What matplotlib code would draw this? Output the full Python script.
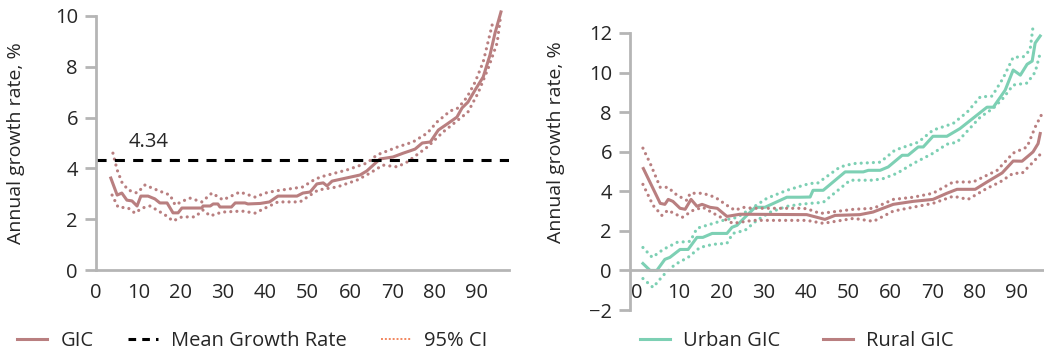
import matplotlib
matplotlib.use("Agg")
import matplotlib.pyplot as plt
from matplotlib.lines import Line2D

plt.rcParams['font.family'] = ['Open Sans', 'DejaVu Sans']

ROSE = '#b97f80'
TEAL = '#7dd0b4'
ORANGE = '#f2865e'
AXGRAY = '#b5b5b5'
TXT = '#262626'
FS = 14.5

# ---- left panel: national GIC ----
gic_x = [3.5, 5, 6.1, 7.3, 8.5, 9.7, 10.6, 12.3, 13.9, 15.1, 16.8, 18.2, 19.4, 20.3, 25, 25.3,
         27, 27.7, 28.8, 29.3, 32, 32.9, 35.2, 35.9, 38.8, 41, 43, 47.5, 48.9, 50.6, 52.2, 53.7,
         54.6, 55.8, 62.4, 64, 67.1, 70.2, 72.6, 74.2, 75.4, 77.1, 79, 80.9, 83, 85.3, 86.5,
         87.9, 89.6, 91.5, 93.1, 94.3, 95.7]
gic_y = [3.62, 2.95, 3.03, 2.75, 2.72, 2.52, 2.91, 2.91, 2.8, 2.64, 2.64, 2.25, 2.25, 2.44, 2.44, 2.52,
         2.52, 2.6, 2.6, 2.48, 2.48, 2.64, 2.64, 2.6, 2.62, 2.68, 2.91, 2.91, 3.03, 3.07, 3.39, 3.43,
         3.31, 3.5, 3.74, 3.9, 4.37, 4.45, 4.6, 4.69, 4.76, 5.0, 5.04, 5.51, 5.75, 6.02, 6.38,
         6.61, 7.09, 7.6, 8.46, 9.33, 10.16]

gic_hi_x = [4, 5, 6.1, 7.6, 9.7, 10.9, 11.6, 13.2, 15.6, 17.5, 18.7, 20.6, 22.2, 25, 27.4, 30,
            34, 37.6, 40, 42.3, 48.9, 51, 53, 59.3, 64, 66.4, 71.2, 74.9, 78.3, 80.6, 83.7,
            85.6, 87.7, 89.6, 91.5, 93.9]
gic_hi_y = [4.6, 3.94, 3.46, 3.15, 3.03, 3.23, 3.35, 3.23, 3.07, 2.95, 2.56, 2.72, 2.83, 2.68, 3.03, 2.76,
            3.07, 2.87, 3.03, 3.11, 3.27, 3.5, 3.66, 3.94, 4.21, 4.53, 4.84, 5.04, 5.39, 5.83, 6.26,
            6.38, 6.81, 7.4, 8.19, 9.84]

gic_lo_x = [3.8, 5.2, 7.6, 9.2, 10.9, 12.8, 14.4, 16.3, 18.2, 20.3, 23.4, 25.3, 27, 29.8, 34.5,
            37.6, 40, 43, 48.2, 52.5, 57, 61.7, 64.8, 67.8, 71.2, 73.5, 78.3, 82, 85.6, 87.9,
            90.3, 92.7, 94.8, 95.5]
gic_lo_y = [2.95, 2.48, 2.44, 2.24, 2.44, 2.52, 2.36, 2.17, 1.93, 2.09, 2.09, 2.36, 2.13, 2.28, 2.32,
            2.24, 2.44, 2.68, 2.68, 3.15, 3.27, 3.54, 3.82, 4.13, 4.06, 4.25, 4.84, 5.43, 5.91, 6.22,
            6.97, 7.95, 8.94, 9.84]

mean_growth = 4.34

# ---- right panel: urban / rural GIC ----
urb_x = [1.4, 3.1, 4.7, 6.6, 7.8, 10.2, 12.1, 14.2, 15.6, 17.8, 21.3, 22.5, 23.7, 26, 28, 30.3,
         35.5, 38.6, 41, 41.7, 44.1, 49.3, 53.6, 54.8, 57.6, 59.5, 62.8, 64.2, 66.6, 67.8, 70.1,
         73.4, 76.5, 82.9, 84.4, 87.2, 89.1, 90.8, 92.4, 93.6, 94.3, 95.5]
urb_y = [0.35, 0.0, 0.0, 0.56, 0.66, 1.06, 1.06, 1.67, 1.67, 1.87, 1.87, 2.18, 2.28, 2.78, 3.19, 3.19,
         3.7, 3.7, 3.71, 4.05, 4.05, 4.98, 4.98, 5.06, 5.06, 5.23, 5.82, 5.82, 6.24, 6.24, 6.78,
         6.78, 7.17, 8.25, 8.25, 9.11, 10.13, 9.87, 10.42, 10.58, 11.49, 11.85]

urb_hi_x = [1.4, 3.6, 6.2, 9.5, 12.6, 14.2, 17.3, 20.4, 23.7, 27.5, 30.8, 35.5, 38.6, 41, 42.7,
            48.1, 51.2, 57.6, 61.1, 66.6, 70.1, 74.9, 78.2, 81.3, 84.1, 86.7, 89.1, 91.5, 93.1, 93.8]
urb_hi_y = [1.16, 0.66, 1.06, 1.42, 1.47, 2.13, 2.33, 2.53, 2.68, 3.19, 3.65, 4.05, 4.25, 4.4, 4.4,
            5.23, 5.4, 5.47, 6.08, 6.48, 7.09, 7.43, 8.0, 8.77, 8.81, 9.71, 10.77, 10.8, 11.14, 12.32]

urb_lo_x = [1.4, 3.8, 6.2, 9.0, 12.1, 14.9, 18, 21.3, 22.7, 25.6, 28.4, 31.5, 35.5, 38.6, 41, 44.1,
            50.5, 55.9, 58.3, 61.6, 65.4, 70.1, 73.4, 75.8, 81.3, 84.4, 86.7, 89.1, 92.4, 94.3, 95.5]
urb_lo_y = [-0.41, -0.86, -0.25, 0.30, 0.66, 1.16, 1.32, 1.37, 1.87, 2.03, 2.53, 2.94, 3.24, 3.34, 3.39, 3.44,
            4.56, 4.56, 4.64, 4.91, 5.4, 5.92, 6.38, 6.48, 7.75, 8.2, 8.7, 9.37, 9.47, 10.02, 10.98]

rur_x = [1.5, 5.5, 6.6, 7.4, 8.5, 10.2, 11.4, 12.8, 14.2, 15.4, 17.3, 19, 21.3, 24.4, 40.2, 44.5,
         46.9, 52.8, 55.9, 60.7, 65.4, 70.1, 73.4, 75.8, 80.1, 82.9, 86.5, 89.1, 91.2, 93.8, 95, 95.5]
rur_y = [5.15, 3.39, 3.34, 3.59, 3.49, 3.14, 3.09, 3.59, 3.24, 3.34, 3.19, 3.14, 2.73, 2.84, 2.82, 2.58,
         2.78, 2.82, 2.95, 3.34, 3.49, 3.59, 3.9, 4.1, 4.1, 4.47, 4.93, 5.53, 5.52, 5.99, 6.41, 6.92]

rur_hi_x = [1.4, 3.1, 5.5, 7.3, 9.5, 11.8, 12.6, 15.6, 18.5, 21.3, 23.2, 25.1, 27.5, 38.6, 40.2, 43.4,
            51.3, 56, 60.7, 65.4, 70.1, 74.9, 79.6, 85.3, 89.1, 92.4, 94.3, 96]
rur_hi_y = [6.18, 5.42, 4.2, 4.2, 3.8, 3.54, 3.9, 3.9, 3.7, 3.29, 3.04, 3.19, 3.14, 3.14, 3.12, 2.88,
            3.09, 3.14, 3.59, 3.7, 3.9, 4.47, 4.47, 5.06, 5.93, 6.24, 7.24, 7.95]

rur_lo_x = [1.4, 3.8, 5.9, 7.3, 10.7, 13.3, 15.6, 19, 21.3, 22.7, 27.5, 38.6, 40.2, 44.1, 51.3, 56,
            60.7, 70.1, 74.9, 78.4, 82.9, 86, 89.1, 91.2, 93.8, 96]
rur_lo_y = [4.35, 3.29, 2.78, 3.04, 2.68, 3.04, 3.19, 2.78, 2.53, 2.38, 2.53, 2.53, 2.53, 2.38, 2.63, 2.48,
            3.0, 3.39, 3.75, 3.59, 4.15, 4.47, 4.91, 4.91, 5.47, 5.98]

xticks = [0, 10, 20, 30, 40, 50, 60, 70, 80, 90]

W, H = 1044, 357
fig = plt.figure(figsize=(W / 100, H / 100), dpi=100)

DOT = dict(linestyle=(0, (0.01, 1.9)), dash_capstyle='round', lw=2.3, clip_on=False)


def style_axes(ax):
    for s in ['top', 'right']:
        ax.spines[s].set_visible(False)
    for s in ['left', 'bottom']:
        ax.spines[s].set_color(AXGRAY)
        ax.spines[s].set_linewidth(2)
    ax.tick_params(axis='y', length=8, width=2, color=AXGRAY, labelsize=FS, labelcolor=TXT, pad=5)
    ax.tick_params(axis='x', length=0, labelsize=FS, labelcolor=TXT, pad=9)
    ax.set_xticks(xticks)


# left
ax1 = fig.add_axes([96 / W, 1 - 270 / H, 413 / W, 254 / H])
style_axes(ax1)
ax1.plot(gic_x, gic_y, color=ROSE, lw=2.2, clip_on=False)
ax1.plot(gic_hi_x, gic_hi_y, color=ROSE, **DOT)
ax1.plot(gic_lo_x, gic_lo_y, color=ROSE, **DOT)
ax1.axhline(mean_growth, color='black', lw=2.2, linestyle=(0, (3.3, 2.7)))
ax1.text(7.6, 5.05, f'{mean_growth:.2f}', fontsize=FS, color=TXT, va='center', ha='left')
ax1.set_xlim(0, 97.6)
ax1.set_ylim(0, 10)
ax1.set_yticks([0, 2, 4, 6, 8, 10])
ax1.set_ylabel('Annual growth rate, %', fontsize=14, color=TXT)
ax1.yaxis.set_label_coords(-0.172, 0.5)

# right
ax2 = fig.add_axes([630 / W, 1 - 310 / H, 414 / W, 277 / H])
style_axes(ax2)
ax2.spines['bottom'].set_position(('data', 0))
ax2.plot(urb_x, urb_y, color=TEAL, lw=2.2, clip_on=False)
ax2.plot(urb_hi_x, urb_hi_y, color=TEAL, **DOT)
ax2.plot(urb_lo_x, urb_lo_y, color=TEAL, **DOT)
ax2.plot(rur_x, rur_y, color=ROSE, lw=2.2, clip_on=False)
ax2.plot(rur_hi_x, rur_hi_y, color=ROSE, **DOT)
ax2.plot(rur_lo_x, rur_lo_y, color=ROSE, **DOT)
ax2.set_xlim(-1.66, 96.4)
ax2.set_ylim(-2, 12)
ax2.set_yticks([-2, 0, 2, 4, 6, 8, 10, 12])
ax2.set_ylabel('Annual growth rate, %', fontsize=14, color=TXT)
ax2.yaxis.set_label_coords(-0.157, 0.606)

# legends
leg_kw = dict(loc='center left', frameon=False, fontsize=FS, borderpad=0, borderaxespad=0,
              handlelength=1.5, handletextpad=0.65, labelcolor=TXT)
h1 = [Line2D([], [], color=ROSE, lw=2.2),
      Line2D([], [], color='black', lw=2.2, linestyle=(0, (2.5, 2))),
      Line2D([], [], color=ORANGE, lw=1.4, linestyle=(0, (1, 1)))]
fig.legend(h1, ['GIC', 'Mean Growth Rate', '95% CI'], bbox_to_anchor=(17 / W, 1 - 341 / H),
           ncol=3, columnspacing=1.7, **leg_kw)
h2 = [Line2D([], [], color=TEAL, lw=2.2), Line2D([], [], color=ROSE, lw=2.2)]
fig.legend(h2, ['Urban GIC', 'Rural GIC'], bbox_to_anchor=(640 / W, 1 - 341 / H),
           ncol=2, columnspacing=2.1, **leg_kw)

fig.savefig('out.png', dpi=100)
